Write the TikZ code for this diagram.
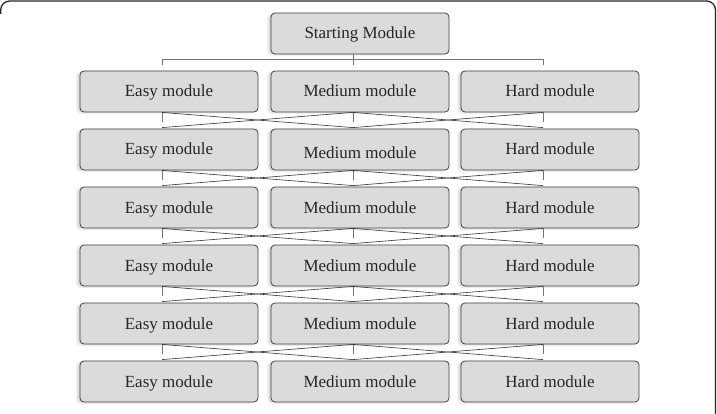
\documentclass[tikz,border=0pt]{standalone}
\usepackage{fontspec}
\setmainfont{Liberation Serif}
\usetikzlibrary{shadows.blur}
\begin{document}
\begin{tikzpicture}[x=1pt,y=-1pt,
  modbox/.style={draw=black!75, fill=black!14, line width=0.8pt, rounded corners=4pt,
    minimum width=178pt, minimum height=41pt, inner sep=0pt,
    text height=13.5pt, text depth=2.5pt,
    font=\fontsize{17}{20}\selectfont, text=black!85,
    blur shadow={shadow xshift=-3pt, shadow yshift=-1pt, shadow blur steps=6, shadow opacity=15}},
  link/.style={draw=black!80, line width=0.6pt},
  tick/.style={draw=black!55, line width=0.6pt},
  frame/.style={draw=black!85, line width=1.3pt, rounded corners=9pt}]
\useasboundingbox (0,0) rectangle (717,414);
\draw[frame] (0.7,14) -- (0.7,1) -- (715.5,1) -- (715.5,414);
\node[modbox] (s) at (360,33.5) {Starting Module};
\foreach \r/\y in {1/91.5,2/149.5,3/207.5,4/265.5,5/323.5,6/381.5}{
  \node[modbox] (e\r) at (169,\y) {Easy module};
  \node[modbox] (h\r) at (550,\y) {Hard module};
}
\foreach \r/\y in {1/91.5,3/207.5,4/265.5,5/323.5,6/381.5}{
  \node[modbox] (m\r) at (360,\y) {Medium module};
}
\node[modbox, text height=19pt, text depth=0pt] (m2) at (360,149.5) {Medium module};
% top connector
\draw[tick] ([xshift=-7pt]s.south) -- ++(0,11);
\coordinate (ta) at ([xshift=-7pt,yshift=11pt]e1.north);
\coordinate (tb) at ([xshift=-7pt,yshift=11pt]h1.north);
\draw[tick] ([yshift=-5pt]ta) -- (ta) -- (tb) -- ([yshift=-5pt]tb);
% connectors between rows
\foreach \r [evaluate=\r as \s using int(\r+1)] in {1,...,5}{
  \foreach \c in {e,m,h}{
    \draw[tick] ([xshift=-7pt]\c\r.south) -- ++(0,10);
  }
  \draw[link] ([xshift=-7pt]e\r.south) -- ([xshift=-7pt,yshift=1pt]m\s.north);
  \draw[link] ([xshift=-7pt]m\r.south) -- ([xshift=-7pt,yshift=1pt]e\s.north);
  \draw[link] ([xshift=-7pt]m\r.south) -- ([xshift=-7pt,yshift=1pt]h\s.north);
  \draw[link] ([xshift=-7pt]h\r.south) -- ([xshift=-7pt,yshift=1pt]m\s.north);
}
\end{tikzpicture}
\end{document}
